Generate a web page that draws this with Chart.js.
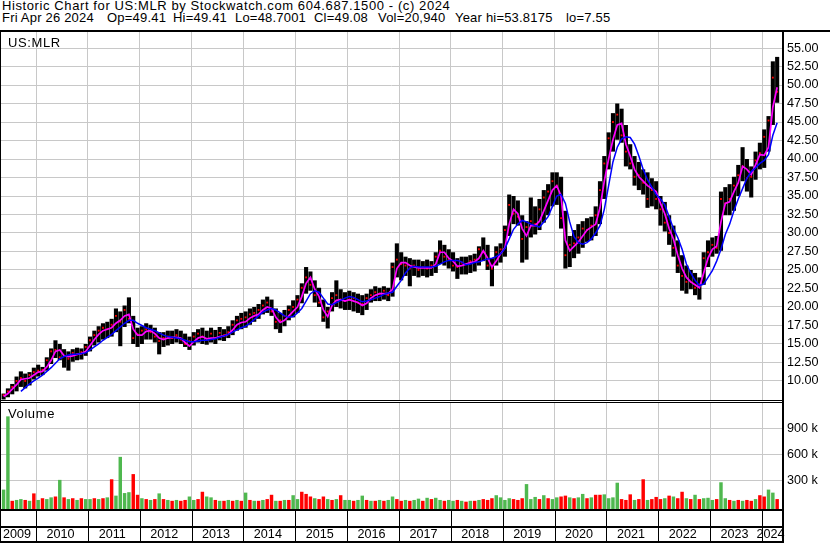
<!DOCTYPE html>
<html>
<head>
<meta charset="utf-8">
<script src="https://cdn.jsdelivr.net/npm/chart.js@4.4.1/dist/chart.umd.min.js"></script>
<style>
  body { margin: 0; background: #fff; width: 830px; height: 543px; overflow: hidden; position: relative;
         font-family: "Liberation Sans", Arial, sans-serif; }
  .txt { position: absolute; font-size: 13px; letter-spacing: 0.6px; line-height: 14px; color: #000; white-space: pre; }
  .l2 { top: 10.5px; letter-spacing: 0.2px; }
  canvas { position: absolute; left: 0; }
</style>
</head>
<body>
<div class="txt" style="left:2px; top:-1.5px">Historic Chart for US:MLR by Stockwatch.com 604.687.1500 - (c) 2024</div>
<div class="txt l2" style="left:2px">Fri Apr 26 2024</div>
<div class="txt l2" style="left:107px">Op=49.41</div>
<div class="txt l2" style="left:173px">Hi=49.41</div>
<div class="txt l2" style="left:235px">Lo=48.7001</div>
<div class="txt l2" style="left:314px">Cl=49.08</div>
<div class="txt l2" style="left:378px">Vol=20,940</div>
<div class="txt l2" style="left:455px">Year hi=53.8175</div>
<div class="txt l2" style="left:566px">lo=7.55</div>
<canvas id="price" width="830" height="371" style="top:30px"></canvas>
<canvas id="volume" width="830" height="142" style="top:401px"></canvas>
<div class="txt" style="left:8px; top:35.5px">US:MLR</div>
<div class="txt" style="left:8px; top:406.5px">Volume</div>
<script>
// monthly bars, May 2009 .. Apr 2024
const firstYear = 2009, firstMonth = 5, monthCount = 180;
const months = [];
for (let i = 0; i < monthCount; i++) {
  const m = firstMonth - 1 + i;
  months.push(String(firstYear + Math.floor(m / 12)) + '-' + String(m % 12 + 1).padStart(2, '0'));
}

const low = [
  7.5, 7.8, 8.2, 8.6, 9.2, 9.0, 9.4, 10.2,
  10.6, 10.8, 11.4, 12.3, 13.1, 12.8, 11.8, 11.4, 12.6, 12.8, 12.9, 13.4,
  14.0, 14.8, 15.2, 15.6, 15.8, 16.0, 16.6, 14.7, 17.3, 17.8, 15.0, 14.6,
  15.0, 15.6, 15.6, 15.2, 13.6, 14.6, 14.8, 15.0, 15.2, 15.0, 14.6, 14.2,
  14.8, 15.2, 15.0, 14.9, 15.2, 15.0, 15.5, 15.4, 15.8, 16.2, 16.8, 17.0,
  17.2, 17.6, 18.0, 18.4, 19.0, 19.2, 18.8, 17.0, 16.5, 17.4, 18.2, 18.6,
  19.2, 20.5, 21.8, 22.2, 20.6, 20.0, 18.0, 17.1, 19.4, 20.0, 19.8, 19.6,
  19.6, 19.4, 19.2, 18.9, 19.6, 20.6, 20.8, 20.8, 21.0, 20.8, 21.4, 24.0,
  23.6, 24.2, 22.8, 24.2, 24.0, 24.2, 24.0, 24.2, 24.6, 25.8, 25.6, 25.2,
  24.8, 23.8, 24.4, 24.4, 24.6, 24.8, 25.6, 26.2, 25.0, 22.8, 25.6, 26.0,
  26.8, 29.6, 31.2, 31.0, 26.0, 26.4, 29.4, 29.8, 30.4, 31.4, 32.4, 33.6,
  33.8, 30.6, 25.2, 25.4, 26.6, 27.2, 28.0, 28.8, 29.0, 29.6, 31.2, 34.6,
  38.6, 41.0, 42.6, 42.2, 39.0, 38.6, 36.4, 35.8, 35.2, 33.4, 33.6, 33.2,
  31.0, 30.2, 28.4, 26.8, 24.6, 22.2, 21.8, 22.4, 21.6, 21.0, 23.0, 25.4,
  26.8, 27.2, 27.6, 32.4, 32.4, 33.0, 35.0, 37.0, 35.6, 34.8, 37.2, 38.6,
  38.8, 41.0, 44.6, 47.6
];
const high = [
  8.3, 9.0, 9.6, 10.6, 11.3, 11.0, 11.2, 11.8,
  12.2, 11.9, 13.2, 14.4, 15.5, 15.0, 14.3, 14.0, 14.3, 14.5, 14.4, 15.0,
  16.0, 16.8, 17.4, 17.8, 18.0, 18.4, 19.8, 19.4, 20.2, 21.3, 18.8, 17.2,
  17.4, 17.8, 17.6, 17.2, 16.6, 16.6, 16.8, 16.8, 17.0, 16.8, 16.4, 16.0,
  16.6, 17.0, 17.2, 16.8, 17.2, 16.9, 17.3, 17.0, 17.4, 18.2, 18.8, 19.2,
  19.4, 19.8, 20.0, 20.4, 21.0, 21.4, 21.0, 19.8, 19.2, 19.6, 20.2, 20.9,
  21.6, 23.2, 25.4, 24.8, 23.6, 22.6, 21.0, 20.0, 22.0, 23.6, 22.4, 22.0,
  22.2, 22.0, 21.8, 21.6, 21.8, 22.4, 22.8, 22.6, 22.8, 22.6, 26.0, 28.6,
  27.4, 26.8, 26.6, 26.4, 26.4, 26.2, 26.4, 26.2, 27.4, 29.0, 28.4, 27.8,
  27.4, 26.6, 26.8, 26.8, 27.0, 27.2, 28.2, 29.4, 28.4, 26.6, 28.2, 28.6,
  31.0, 35.2, 35.0, 34.4, 32.4, 31.6, 34.8, 33.6, 34.6, 35.8, 36.6, 38.2,
  38.2, 37.6, 33.0, 29.6, 30.4, 31.2, 31.6, 32.0, 32.2, 33.6, 37.0, 40.4,
  43.6, 46.2, 47.5, 46.8, 44.6, 42.0, 40.4, 39.6, 38.6, 38.2, 37.4, 37.0,
  35.0, 34.2, 32.4, 31.0, 29.0, 27.0, 25.6, 25.0, 24.6, 24.0, 27.4, 29.0,
  29.4, 29.6, 35.6, 36.2, 36.6, 37.6, 39.2, 41.6, 40.0, 39.0, 41.0, 42.2,
  44.0, 45.8, 53.2, 53.8
];
const close = [
  8.1, 8.6, 9.2, 10.0, 10.4, 10.0, 10.8, 11.2,
  11.4, 11.5, 12.8, 14.0, 14.2, 13.2, 13.4, 13.0, 13.8, 13.6, 13.9, 14.6,
  15.5, 16.2, 16.8, 17.2, 17.0, 17.6, 18.8, 18.0, 19.6, 18.4, 15.8, 16.3,
  16.8, 17.0, 16.6, 16.0, 15.4, 15.8, 16.0, 15.8, 16.2, 15.6, 15.0, 15.4,
  16.0, 16.4, 16.0, 15.6, 16.4, 15.8, 16.5, 16.2, 16.6, 17.6, 18.2, 18.4,
  18.6, 19.0, 19.2, 19.6, 20.2, 20.6, 19.4, 18.0, 18.2, 18.8, 19.6, 20.0,
  21.0, 22.6, 24.0, 23.0, 21.6, 20.6, 18.6, 19.4, 21.2, 21.6, 21.0, 20.8,
  21.0, 21.2, 20.6, 20.4, 21.2, 21.6, 22.0, 21.8, 22.2, 21.6, 25.4, 26.4,
  25.8, 25.6, 25.2, 25.6, 25.0, 25.4, 25.2, 25.6, 26.8, 27.6, 26.8, 26.4,
  25.6, 25.4, 26.0, 25.8, 26.2, 26.4, 27.8, 27.4, 25.6, 25.2, 27.4, 27.8,
  30.4, 33.8, 32.6, 32.2, 29.2, 30.8, 31.6, 31.2, 33.2, 34.8, 35.6, 37.0,
  36.4, 32.0, 27.0, 28.4, 28.6, 29.4, 30.6, 30.4, 31.0, 32.4, 35.8, 39.4,
  42.8, 45.0, 46.0, 43.2, 41.0, 39.4, 37.6, 37.8, 36.8, 34.6, 35.8, 34.6,
  33.2, 31.4, 30.0, 28.0, 25.6, 24.2, 23.4, 23.4, 22.6, 23.0, 26.6, 27.4,
  28.4, 28.0, 34.6, 34.0, 34.6, 36.4, 37.8, 39.0, 37.4, 37.6, 39.8, 40.8,
  43.0, 45.2, 51.0, 49.08
];
const maShort = [
  7.9, 8.3, 8.9, 9.5, 10.2, 10.3, 10.4, 10.8,
  11.2, 11.3, 11.9, 12.8, 14.0, 14.2, 13.4, 13.3, 13.4, 13.6, 13.7, 14.0,
  14.8, 15.6, 16.3, 16.8, 17.0, 17.2, 17.8, 18.2, 18.8, 19.0, 17.0, 16.2,
  16.2, 16.7, 16.8, 16.4, 15.8, 15.6, 15.8, 15.9, 15.9, 15.8, 15.2, 14.7,
  15.3, 15.8, 16.0, 15.7, 15.8, 15.8, 16.0, 16.1, 16.3, 16.9, 17.6, 17.9,
  18.0, 18.5, 18.8, 19.0, 19.6, 20.0, 19.8, 18.6, 17.9, 18.2, 18.8, 19.4,
  20.0, 21.4, 23.2, 24.0, 22.4, 21.4, 19.6, 18.7, 20.2, 20.9, 21.0, 20.8,
  21.0, 20.8, 20.6, 20.2, 20.5, 21.2, 21.6, 21.8, 21.8, 21.8, 22.4, 25.2,
  26.0, 26.0, 25.6, 25.4, 25.3, 25.3, 25.3, 25.3, 25.8, 27.4, 27.4, 26.6,
  26.2, 25.5, 25.6, 25.8, 26.0, 26.1, 26.6, 27.6, 26.6, 25.4, 26.2, 27.2,
  28.0, 31.2, 33.2, 32.6, 30.6, 29.6, 31.0, 31.0, 31.6, 33.0, 34.4, 35.8,
  36.4, 35.0, 29.0, 27.6, 28.2, 28.8, 29.6, 30.4, 30.8, 31.2, 33.4, 37.0,
  40.0, 42.6, 44.6, 44.8, 42.0, 40.4, 38.6, 37.6, 37.0, 36.4, 36.0, 35.6,
  34.0, 32.6, 30.6, 29.2, 27.0, 25.2, 24.0, 23.4, 23.0, 22.6, 24.6, 26.6,
  27.8, 28.2, 31.5, 34.0, 34.2, 35.6, 36.8, 39.0, 38.6, 37.9, 39.2, 40.6,
  40.5, 41.6, 47.0, 49.7
];
const maLong = [
  null, null, null, null, 8.6, 9.1, 9.6, 10.0,
  10.4, 10.8, 11.3, 11.8, 12.4, 13.0, 13.3, 13.5, 13.6, 13.6, 13.7, 13.8,
  14.2, 14.6, 15.0, 15.5, 15.9, 16.3, 16.8, 17.3, 17.8, 18.2, 18.2, 17.8,
  17.5, 17.2, 17.0, 16.8, 16.5, 16.2, 16.0, 15.9, 15.8, 15.7, 15.5, 15.3,
  15.3, 15.4, 15.5, 15.5, 15.6, 15.7, 15.9, 16.1, 16.3, 16.6, 16.9, 17.2,
  17.4, 17.8, 18.3, 18.8, 19.3, 19.6, 19.8, 19.6, 19.2, 18.8, 18.6, 18.7,
  19.2, 19.8, 20.8, 21.8, 22.2, 22.0, 21.2, 20.4, 20.3, 20.6, 20.9, 21.2,
  21.4, 21.3, 21.0, 20.7, 20.8, 21.0, 21.2, 21.4, 21.7, 21.9, 22.0, 22.8,
  23.6, 24.6, 25.3, 25.5, 25.4, 25.4, 25.4, 25.4, 25.5, 25.8, 26.1, 26.3,
  26.3, 26.3, 26.1, 25.7, 25.8, 26.0, 26.1, 26.3, 26.5, 26.6, 26.8, 27.2,
  27.9, 29.2, 30.5, 31.2, 31.7, 31.5, 31.2, 31.0, 30.8, 31.5, 32.2, 33.6,
  35.0, 35.2, 34.0, 31.5, 29.5, 28.7, 28.5, 28.7, 29.2, 30.0, 31.0, 33.2,
  36.4, 39.6, 41.6, 42.7, 43.0, 42.9, 42.0, 40.4, 38.6, 37.2, 36.2, 35.2,
  34.6, 33.8, 32.2, 30.6, 29.4, 27.8, 25.8, 24.6, 23.6, 22.9, 23.1, 24.0,
  24.9, 26.2, 27.8, 29.8, 31.2, 33.0, 34.6, 36.0, 37.4, 38.3, 38.8, 39.4,
  39.8, 40.6, 43.2, 44.9
];
// volume in thousands; volUp: 1 = green bar, 0 = red bar
const volume = [
  190, 1040, 60, 70, 80, 70, 60, 146,
  70, 90, 80, 100, 110, 303, 100, 80, 90, 70, 90, 80,
  80, 90, 80, 90, 100, 310, 120, 570, 150, 160, 370, 130,
  90, 80, 70, 80, 146, 80, 70, 60, 70, 60, 70, 110,
  70, 80, 165, 110, 100, 70, 60, 60, 70, 60, 70, 60,
  155, 70, 60, 60, 70, 80, 130, 60, 60, 70, 70, 125,
  80, 165, 140, 110, 90, 80, 110, 80, 70, 80, 125, 70,
  70, 60, 70, 120, 70, 60, 60, 70, 60, 70, 110, 80,
  60, 70, 60, 70, 85, 60, 95, 80, 95, 70, 60, 70,
  60, 70, 60, 50, 60, 60, 70, 80, 70, 90, 125, 100,
  70, 90, 80, 70, 90, 254, 80, 105, 80, 125, 90, 80,
  100, 110, 120, 100, 90, 100, 140, 90, 100, 130, 130, 135,
  90, 100, 270, 80, 70, 135, 70, 80, 310, 70, 80, 105,
  80, 90, 120, 110, 90, 165, 90, 80, 130, 80, 90, 95,
  70, 80, 275, 90, 70, 60, 70, 60, 70, 60, 80, 125,
  110, 190, 155, 80
];
const volUp = [
  1, 1, 0, 1, 1, 0, 1, 0,
  1, 0, 1, 1, 0, 1, 0, 1, 0, 1, 0, 1,
  1, 0, 1, 0, 1, 0, 1, 1, 1, 1, 0, 0,
  1, 0, 1, 0, 1, 0, 1, 0, 1, 0, 0, 1,
  1, 0, 0, 1, 1, 0, 1, 0, 1, 0, 1, 0,
  1, 0, 1, 0, 1, 0, 0, 1, 0, 1, 0, 1,
  1, 0, 0, 0, 1, 0, 0, 1, 0, 1, 0, 1,
  1, 0, 1, 1, 0, 1, 0, 1, 0, 1, 1, 0,
  0, 1, 0, 1, 1, 0, 1, 0, 1, 1, 0, 1,
  1, 0, 1, 0, 1, 0, 1, 0, 0, 0, 1, 1,
  1, 1, 0, 0, 0, 1, 1, 1, 0, 1, 0, 1,
  1, 0, 0, 1, 0, 1, 1, 0, 1, 0, 0, 1,
  1, 1, 1, 0, 0, 0, 1, 0, 0, 1, 0, 0,
  0, 1, 0, 1, 0, 0, 1, 0, 1, 0, 1, 1,
  1, 0, 1, 1, 0, 1, 0, 1, 0, 0, 1, 0,
  0, 1, 1, 0
];

const priceTicks = [10, 12.5, 15, 17.5, 20, 22.5, 25, 27.5, 30, 32.5, 35, 37.5, 40, 42.5, 45, 47.5, 50, 52.5, 55];
const volumeTicks = [300, 600, 900];
const yearTicks = [2010, 2011, 2012, 2013, 2014, 2015, 2016, 2017, 2018, 2019, 2020, 2021, 2022, 2023, 2024];
const yearLabels = [2009, 2010, 2011, 2012, 2013, 2014, 2015, 2016, 2017, 2018, 2019, 2020, 2021, 2022, 2023, 2024];

const X_MIN = 2009.325, X_MAX = 2024.385;
const FONT = { family: 'Liberation Sans', size: 12.6 };
const GRID = '#c8c8c8';

// month label -> fractional year at the middle of the month
const toYear = s => +s.slice(0, 4) + (+s.slice(5, 7) - 1) / 12 + 1 / 24;
const xs = months.map(toYear);

function xAxis() {
  return {
    type: 'linear', min: X_MIN, max: X_MAX, offset: false,
    afterBuildTicks: s => { s.ticks = yearTicks.map(v => ({ value: v })); },
    ticks: { display: false },
    grid: { color: GRID, drawTicks: false, offset: false },
    border: { display: false },
    afterFit: s => { s.height = 0; s.paddingLeft = 0; s.paddingRight = 0; }
  };
}

function yAxis(min, max, ticks, fmt) {
  return {
    position: 'right', min, max,
    afterBuildTicks: s => { s.ticks = ticks.map(v => ({ value: v })); },
    ticks: { color: '#000', font: FONT, padding: 5, callback: fmt },
    grid: { color: GRID, drawTicks: false },
    border: { display: false },
    afterFit: s => { s.width = 48; s.paddingTop = 0; s.paddingBottom = 0; }
  };
}

const framePrice = {
  id: 'framePrice',
  afterDraw(chart) {
    const c = chart.ctx;
    c.save();
    c.fillStyle = '#000';
    c.fillRect(0, 0, 830, 2);            // top rule
    c.fillRect(0, 0, 1, chart.height);   // left edge
    c.fillRect(0, 370, 783, 1);          // bottom of price panel
    c.fillRect(782, 0, 2, chart.height); // axis line
    c.restore();
  }
};

const frameVolume = {
  id: 'frameVolume',
  afterDraw(chart) {
    const c = chart.ctx, sx = chart.scales.x, h = chart.height;
    c.save();
    c.fillStyle = '#000';
    c.fillRect(0, 0, 1, h);
    c.fillRect(0, 1, 783, 1);
    c.fillRect(0, 108, 783, 2);
    c.fillRect(0, 125, 783, 2);
    c.fillRect(0, 140, 783, 2);
    yearTicks.forEach(y => {
      c.fillRect(Math.round(sx.getPixelForValue(y)), 108, 1, 34);
    });
    c.fillRect(782, 0, 2, h);
    c.font = FONT.size + 'px ' + FONT.family;
    c.textAlign = 'center';
    c.textBaseline = 'middle';
    yearLabels.forEach(y => {
      const a = sx.getPixelForValue(Math.max(X_MIN, y));
      const b = sx.getPixelForValue(Math.min(X_MAX, y + 1));
      c.fillText(String(y), (a + b) / 2 - 1.5, 134);
    });
    c.restore();
  }
};

new Chart(document.getElementById('price'), {
  type: 'bar',
  data: {
    datasets: [
      {
        type: 'line', label: 'MA long', order: 0,
        data: xs.map((x, i) => ({ x, y: maLong[i] })),
        borderColor: '#0000ff', borderWidth: 1.5, pointRadius: 0, tension: 0
      },
      {
        type: 'line', label: 'MA short', order: 1,
        data: xs.map((x, i) => ({ x, y: maShort[i] })),
        borderColor: '#ff00ff', borderWidth: 1.7, pointRadius: 0, tension: 0
      },
      {
        type: 'line', label: 'Close', order: 2, showLine: false,
        data: xs.map((x, i) => ({ x, y: close[i] })),
        pointStyle: 'rect', pointRadius: 1.3, pointBorderWidth: 0,
        pointBackgroundColor: '#ff0000'
      },
      {
        type: 'bar', label: 'Range', order: 3,
        data: xs.map((x, i) => ({ x, y: [low[i], high[i]] })),
        backgroundColor: '#000', barPercentage: 0.95, categoryPercentage: 1
      }
    ]
  },
  options: {
    responsive: false, animation: false, devicePixelRatio: 1,
    layout: { autoPadding: false, padding: { left: 1, right: 0, top: 1, bottom: 1 } },
    plugins: { legend: { display: false }, tooltip: { enabled: false } },
    scales: {
      x: xAxis(),
      y: yAxis(7.43, 57.30, priceTicks, v => v.toFixed(2))
    }
  },
  plugins: [framePrice]
});

new Chart(document.getElementById('volume'), {
  type: 'bar',
  data: {
    datasets: [{
      label: 'Volume',
      data: xs.map((x, i) => ({ x, y: volume[i] })),
      backgroundColor: volUp.map(u => u ? '#4fb84f' : '#ff0000'),
      base: -35, barPercentage: 0.8, categoryPercentage: 1
    }]
  },
  options: {
    responsive: false, animation: false, devicePixelRatio: 1,
    layout: { autoPadding: false, padding: { left: 1, right: 0, top: 2, bottom: 34 } },
    plugins: { legend: { display: false }, tooltip: { enabled: false } },
    scales: {
      x: xAxis(),
      y: yAxis(-35, 1195, volumeTicks, v => v + ' k')
    }
  },
  plugins: [frameVolume]
});
</script>
</body>
</html>
